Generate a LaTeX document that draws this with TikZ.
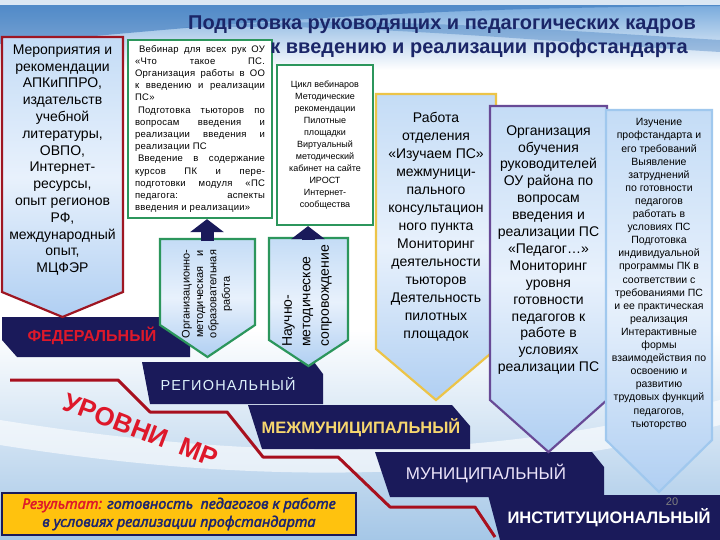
\documentclass[tikz,border=0pt]{standalone}
\usepackage{fontspec}
\setmainfont{Liberation Sans}
\newfontfamily\resfont{Noto Sans}[ItalicFeatures={FakeBold=2}]
\usetikzlibrary{arrows.meta}

\definecolor{navy}{RGB}{26,26,90}
\definecolor{titleblue}{RGB}{27,38,104}
\definecolor{boxred}{RGB}{158,22,34}
\definecolor{boxgreen}{RGB}{44,150,92}
\definecolor{boxyellow}{RGB}{236,196,72}
\definecolor{boxpurple}{RGB}{104,74,150}
\definecolor{boxblue}{RGB}{160,200,238}
\definecolor{filltop}{RGB}{196,220,246}
\definecolor{fillmid}{RGB}{232,241,252}
\definecolor{fillbot}{RGB}{176,207,242}
\definecolor{linered}{RGB}{168,16,30}
\definecolor{textred}{RGB}{222,24,42}
\definecolor{resyellow}{RGB}{255,194,14}
\definecolor{restext}{RGB}{28,36,112}
\definecolor{skyblue}{RGB}{110,164,218}
\definecolor{skydark}{RGB}{48,112,184}
\definecolor{bgblue}{RGB}{165,199,231}
\definecolor{goldtext}{RGB}{246,214,110}
\definecolor{paletext}{RGB}{222,242,252}
\definecolor{lavtext}{RGB}{236,228,250}

\newcommand{\pentbox}[6]{\shadedraw[pent,draw=#1] (#2,#4) -- (#3,#4) -- (#3,#5) -- ({(#2+#3)/2},#6) -- (#2,#5) -- cycle;}

\begin{document}
\begin{tikzpicture}[x=1pt,y=-1pt,
  pent/.style={line width=2.2pt,top color=filltop,bottom color=fillbot,middle color=fillmid},
  level/.style={fill=navy},
  leveltext/.style={inner sep=0pt,font=\fontsize{16}{16}\selectfont\bfseries},
  uparrow/.style={navy,line width=13pt,-{Triangle[length=13pt,width=33pt]}},
  boxtext/.style={align=center,inner sep=0pt},
  whitebox/.style={draw=boxgreen,line width=2.2pt,fill=white,inner sep=0pt}]
\useasboundingbox (0,0) rectangle (720,540);
\fill[white] (0,0) rectangle (720,540);
\shade[top color=skyblue,bottom color=white] (0,0) rectangle (720,70);
\fill[skydark,opacity=.55] (0,44) .. controls (160,32) and (330,8) .. (720,6) -- (720,0) -- (0,0) -- cycle;
\fill[white,opacity=.8] (0,0) rectangle (720,5);
\fill[skydark,opacity=.35] (180,28) .. controls (350,22) and (520,40) .. (720,52) -- (720,40) .. controls (520,28) and (350,14) .. (180,28) -- cycle;
\shade[top color=white,bottom color=bgblue] (0,330) rectangle (720,540);
\fill[white,opacity=.6] (0,420) .. controls (220,455) and (460,470) .. (720,400) -- (720,425) .. controls (460,490) and (220,480) .. (0,445) -- cycle;

\draw[linered,line width=3pt,line join=round] (10,380) -- (118,380) -- (150,412) -- (227,412) -- (263,457) -- (338,457) -- (390,507) -- (475,507) -- (495,537);

\fill[level] (2,317) -- (190,317) -- (190,357) -- (17,357) -- (2,340) -- cycle;
\node[leveltext,textred] (fed) at (92,336) {ФЕДЕРАЛЬНЫЙ};
\fill[level] (142,362) -- (314,362) -- (323,374) -- (323,404) -- (150,404) -- cycle;
\node[leveltext,paletext,font=\fontsize{14.5}{14.5}\selectfont\addfontfeature{LetterSpace=8}] (reg) at (228,384) {РЕГИОНАЛЬНЫЙ};
\fill[level] (248,405) -- (452,405) -- (470,426) -- (470,449) -- (262,449) -- cycle;
\node[leveltext,goldtext,font=\fontsize{16.5}{16.5}\selectfont\bfseries] (mezh) at (361,428) {МЕЖМУНИЦИПАЛЬНЫЙ};
\fill[level] (375,452) -- (592,452) -- (604,467) -- (604,497) -- (390,497) -- cycle;
\node[leveltext,lavtext,font=\fontsize{17}{17}\selectfont] (mun) at (486,474) {МУНИЦИПАЛЬНЫЙ};
\fill[level] (488,495) -- (720,495) -- (720,540) -- (500,540) -- cycle;
\node[leveltext,white,font=\fontsize{16.6}{16.6}\selectfont\bfseries] (inst) at (609,518) {ИНСТИТУЦИОНАЛЬНЫЙ};
\node[inner sep=0pt,gray,font=\fontsize{11}{11}\selectfont] (page) at (672,502) {20};

\pentbox{boxred}{2}{123}{37}{292}{317}
\node[boxtext,font=\fontsize{14}{16.8}\selectfont] (mer) at (62.5,160) {Мероприятия и\\рекомендации\\АПКиППРО,\\издательств\\учебной\\литературы,\\ОВПО,\\Интернет-\\ресурсы,\\опыт регионов\\РФ,\\международный\\опыт,\\МЦФЭР};

\node[whitebox,minimum width=144pt,minimum height=178pt,text width=130pt,align=justify,font={\fontsize{9.5}{12.2}\selectfont\addfontfeature{LetterSpace=3}\parindent=0pt}] (web) at (200,129) {\hspace*{4pt}Вебинар для всех рук ОУ\linebreak «Что такое ПС.\linebreak Организация работы в ОО\linebreak к введению и реализации\linebreak ПС»\par\hspace*{3pt}Подготовка тьюторов по\linebreak вопросам введения и\linebreak реализации введения и\linebreak реализации ПС\par\hspace*{3pt}Введение в содержание\linebreak курсов ПК и пере-\linebreak подготовки модуля «ПС\linebreak педагога: аспекты\linebreak введения и реализации»};
\node[whitebox,minimum width=96pt,minimum height=160pt,align=center,font=\fontsize{9}{12}\selectfont] (cikl) at (325,145) {Цикл вебинаров\\Методические\\рекомендации\\Пилотные\\площадки\\Виртуальный\\методический\\кабинет на сайте\\ИРОСТ\\Интернет-\\сообщества};

\pentbox{boxgreen}{160}{255}{239}{325}{357}
\node[boxtext,rotate=90,font=\fontsize{11}{13.4}\selectfont] (org) at (207,294) {Организационно-\\методическая\hspace{10pt}и\\образовательная\\работа};
\pentbox{boxgreen}{269}{348}{238}{340}{366}
\node[boxtext,align=left,rotate=90,font=\fontsize{14}{18.5}\selectfont] (nauch) at (307,296) {Научно-\\методическое\\сопровождение};
\coordinate (orgtop) at (207,241);
\coordinate (nauchtop) at (308,240);
\draw[uparrow] (orgtop) -- (orgtop |- web.south);
\draw[uparrow] (nauchtop) -- (nauchtop |- cikl.south);

\pentbox{boxyellow}{376}{496}{94}{349}{400}
\node[boxtext,font=\fontsize{14}{18}\selectfont] (rabota) at (436,227) {Работа\\отделения\\«Изучаем ПС»\\межмуници-\\пального\\консультацион\\ного пункта\\Мониторинг\\деятельности\\тьюторов\\Деятельность\\пилотных\\площадок};
\pentbox{boxpurple}{490}{607}{106}{400}{452}
\node[boxtext,font=\fontsize{14}{16.9}\selectfont] (obuch) at (548.5,250) {Организация\\обучения\\руководителей\\ОУ района по\\вопросам\\введения и\\реализации ПС\\«Педагог…»\\Мониторинг\\уровня\\готовности\\педагогов к\\работе в\\условиях\\реализации ПС};
\pentbox{boxblue}{606}{712}{110}{440}{492}
\node[boxtext,font=\fontsize{10.5}{13.1}\selectfont] (izuch) at (659,274) {Изучение\\профстандарта и\\его требований\\Выявление\\затруднений\\по готовности\\педагогов\\работать в\\условиях ПС\\Подготовка\\индивидуальной\\программы ПК в\\соответствии с\\требованиями ПС\\и ее практическая\\реализация\\Интерактивные\\формы\\взаимодействия по\\освоению и\\развитию\\трудовых функций\\педагогов,\\тьюторство};

\node[inner sep=0pt,titleblue,font=\fontsize{20}{20}\selectfont\bfseries] (title1) at (442,25) {Подготовка руководящих и педагогических кадров};
\node[inner sep=0pt,titleblue,font=\fontsize{20}{20}\selectfont\bfseries] (title2) at (479,48) {к введению и реализации профстандарта};

\node[rotate=-21,inner sep=0pt,textred,font=\fontsize{26}{26}\selectfont\bfseries] (urovni) at (141,430) {УРОВНИ\ \ МР};

\node[draw=navy,line width=1.5pt,fill=resyellow,minimum width=354pt,minimum height=42pt,align=center,inner sep=0pt,text=restext,font=\resfont\fontsize{14.5}{18}\selectfont\itshape] (res) at (179,514) {{\color{textred}Результат:} готовность\ \ педагогов к работе\\в условиях реализации профстандарта};
\end{tikzpicture}
\end{document}
